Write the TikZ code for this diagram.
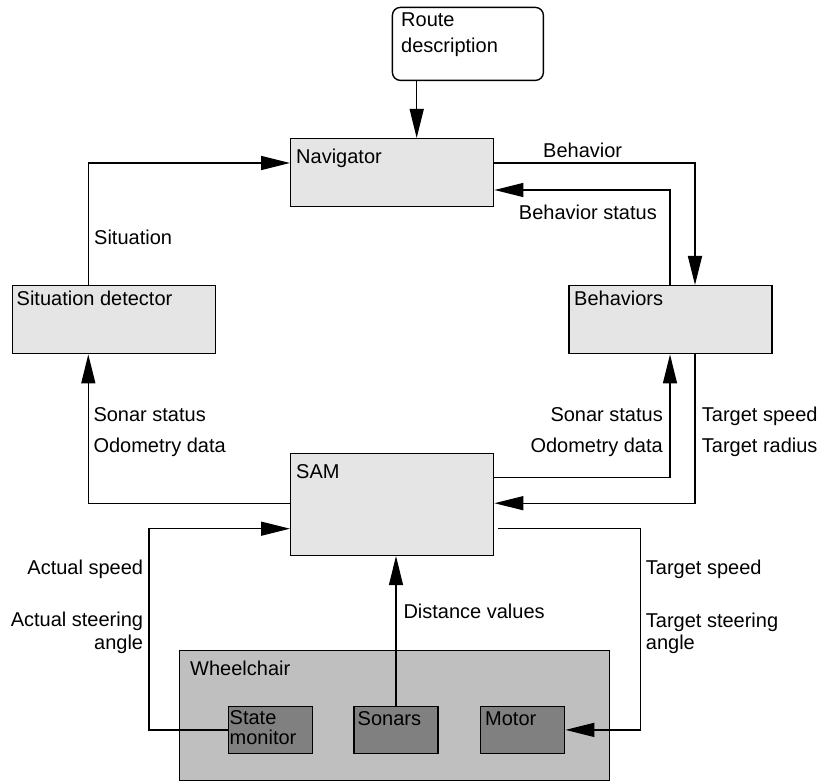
\documentclass[tikz,border=0pt]{standalone}
\usepackage{fontspec}
\setmainfont{Liberation Sans}
\usetikzlibrary{arrows.meta}
\definecolor{boxfill}{gray}{0.9}
\definecolor{chairfill}{gray}{0.75}
\definecolor{partfill}{gray}{0.5}
\tikzset{
  box/.style={draw, line width=1.4pt, fill=boxfill, anchor=north west,
    inner sep=0pt, minimum width=203, minimum height=68},
  part/.style={box, fill=partfill, minimum width=84, minimum height=47},
  txt/.style={inner sep=0pt},
  arr/.style={line width=1.4pt, -{Triangle[length=29pt,width=14pt]}},
  wire/.style={line width=1.4pt}
}
\begin{document}
\begin{tikzpicture}[x=1pt,y=-1pt,font=\fontsize{20}{24}\selectfont]
  \useasboundingbox (0,0) rectangle (823,781);

  % boxes
  \node[box, fill=white, rounded corners=8pt, minimum width=151, minimum height=73]
    (route) at (391.7,6.7) {};
  \node[box] (nav) at (290,138) {};
  \node[box] (sit) at (11.7,285) {};
  \node[box] (beh) at (568.3,285) {};
  \node[box, minimum height=102] (sam) at (290,452.7) {};
  \node[box, fill=chairfill, minimum width=430, minimum height=130] (chair) at (179,650) {};
  \node[part] (mon) at (227.7,705.7) {};
  \node[part] (son) at (353.3,705.7) {};
  \node[part] (mot) at (480,705.7) {};

  % box texts
  \node[txt, anchor=north west, align=left, font=\fontsize{20}{26}\selectfont]
    (troute) at (401,13) {Route\\description};
  \node[txt, anchor=base west] (tnav) at (296,164) {Navigator};
  \node[txt, anchor=base west] (tsit) at (16.5,305.7) {Situation detector};
  \node[txt, anchor=base west] (tbeh) at (574,305.7) {Behaviors};
  \node[txt, anchor=base west] (tsam) at (296,478.3) {SAM};
  \node[txt, anchor=base west] (tchair) at (190,675) {Wheelchair};
  \node[txt, anchor=north west, align=left, font=\fontsize{20}{20}\selectfont]
    (tmon) at (229.5,710.4) {State\\monitor};
  \node[txt, anchor=base west] (tson) at (357.5,725) {Sonars};
  \node[txt, anchor=base west] (tmot) at (485,725) {Motor};

  % connectors
  \draw[arr] ([xshift=25pt]route.south west) -- ([xshift=25pt]route.south west |- nav.north);
  \draw[arr] ([xshift=76.6pt]sit.north west) |- ([shift={(0,25)}]nav.north west);
  \draw[arr] ([shift={(0,25)}]nav.north east) -| ([xshift=126.7pt]beh.north west);
  \draw[arr] ([xshift=101.7pt]beh.north west) |- ([shift={(0,52)}]nav.north east);
  \draw[arr] ([shift={(0,25)}]sam.north east) -| ([xshift=101.7pt]beh.south west);
  \draw[arr] ([xshift=126.7pt]beh.south west) |- ([shift={(0,50.5)}]sam.north east);
  \draw[arr] ([shift={(0,50.5)}]sam.north west) -| ([xshift=76.6pt]sit.south west);
  \draw[arr] (mon.west) -- ++(-78.7,0) |- ([shift={(0,76)}]sam.north west);
  \draw[arr] ([shift={(3.4,76)}]sam.north east) -- ++(142.6,0) |- (mot.east);
  \draw[arr] (son.north) -- (son.north |- sam.south);

  % connector labels
  \node[txt, anchor=base west] (lsit) at (94,245) {Situation};
  \node[txt, anchor=base west] (lbeh) at (543,158) {Behavior};
  \node[txt, anchor=base east] (lbehst) at (657,220) {Behavior status};
  \node[txt, anchor=base west] (lsonl) at (93.3,421.7) {Sonar status};
  \node[txt, anchor=base west] (lodol) at (93.3,452) {Odometry data};
  \node[txt, anchor=base east] (lsonr) at (663,421.7) {Sonar status};
  \node[txt, anchor=base east] (lodor) at (663,452) {Odometry data};
  \node[txt, anchor=base west] (ltspr) at (701.7,421.7) {Target speed};
  \node[txt, anchor=base west] (ltrad) at (701.7,452) {Target radius};
  \node[txt, anchor=base east] (laspd) at (143.3,574) {Actual speed};
  \node[txt, anchor=north east, align=right, font=\fontsize{20}{23}\selectfont]
    (lastr) at (143.3,611.7) {Actual steering\\angle};
  \node[txt, anchor=base west] (ltspd) at (645.7,574) {Target speed};
  \node[txt, anchor=north west, align=left, font=\fontsize{20}{22}\selectfont]
    (ltstr) at (645.7,612.4) {Target steering\\angle};
  \node[txt, anchor=base west] (ldist) at (403.3,618.3) {Distance values};
\end{tikzpicture}
\end{document}
